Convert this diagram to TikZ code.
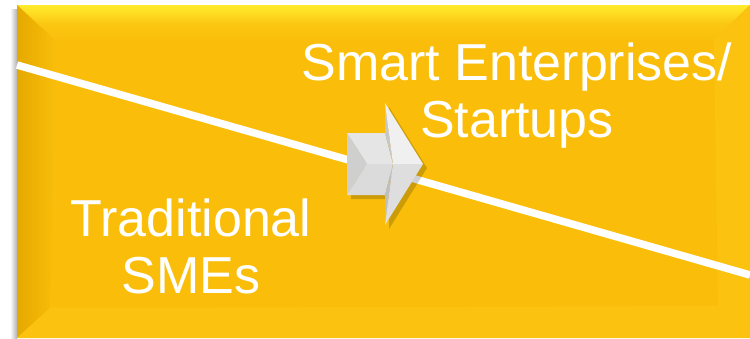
\documentclass[tikz,border=0pt]{standalone}
\usepackage{fontspec}
\setmainfont{Liberation Sans}
\usetikzlibrary{calc}
\definecolor{gold}{HTML}{FABE0A}
\definecolor{goldtop}{HTML}{FFEC2E}
\definecolor{goldleft}{HTML}{E6A900}
\definecolor{goldlow}{HTML}{FBC20F}
\newcommand{\facet}[2]{\fill[#1] #2 -- cycle;}
\tikzset{
	caption/.style={text=white,font=\fontsize{52}{57}\selectfont,align=center,inner sep=0pt},
	divider/.style={white,line width=7.5pt}
}

\begin{document}
\begin{tikzpicture}[x=1pt,y=-1pt]
		\useasboundingbox (0,0) rectangle (750,338);
		% panel
		\coordinate (NW) at (17,5);
		\coordinate (NE) at (750,5);
		\coordinate (SW) at (17,338);
		\coordinate (SE) at (750,338);
		\coordinate (iNW) at (57,42);
		\coordinate (iNE) at (714,40);
		\coordinate (iSW) at (50,308);
		\coordinate (iSE) at (718,306);
		\shade[left color=white,right color=black!30] (10,9) rectangle (17,338);
		\fill[gold] (NW) rectangle (SE);
		\shade[top color=goldtop,bottom color=gold,middle color=gold!80!goldtop] (NW) -- (NE) -- (iNE) -- (iNW) -- cycle;
		\shade[left color=goldleft,right color=gold] (NW) -- (iNW) -- (iSW) -- (SW) -- cycle;
		\facet{goldlow}{(SW) -- (iSW) -- (iSE) -- (SE)}
		\facet{goldlow}{(NE) -- (iNE) -- (iSE) -- (SE)}
		% divider
		\coordinate (lineL) at (17,65);
		\coordinate (lineR) at (750,275);
		\draw[divider] (lineL) -- (lineR);
		% arrow
		\coordinate (A) at (347,133);
		\coordinate (B) at (385,133);
		\coordinate (C) at (347,195);
		\coordinate (D) at (385,195);
		\coordinate (H1) at (385,103);
		\coordinate (H2) at (385,225);
		\coordinate (T) at (423,164);
		\coordinate (M) at (393,164);
		\coordinate (P) at (367,164);
		\fill[black,opacity=.18] ($(A)+(4,4)$) -- ($(B)+(4,4)$) -- ($(H1)+(4,4)$) -- ($(T)+(4,4)$) -- ($(H2)+(4,4)$) -- ($(D)+(4,4)$) -- ($(C)+(4,4)$) -- cycle;
		\facet{black!10}{(A) -- (B) -- (M) -- (P)}
		\facet{black!19}{(A) -- (C) -- (P)}
		\facet{black!14}{(C) -- (D) -- (M) -- (P)}
		\facet{black!22}{(H1) -- (M) -- (B)}
		\facet{black!25}{(H2) -- (M) -- (D)}
		\facet{black!6}{(H1) -- (T) -- (M)}
		\facet{black!13}{(M) -- (T) -- (H2)}
		% labels
		\node[caption,anchor=base] (smart) at (517,137) {Smart Enterprises/\\Startups};
		\node[caption,anchor=base] (trad) at (191,293) {Traditional\\SMEs};
\end{tikzpicture}
\end{document}
